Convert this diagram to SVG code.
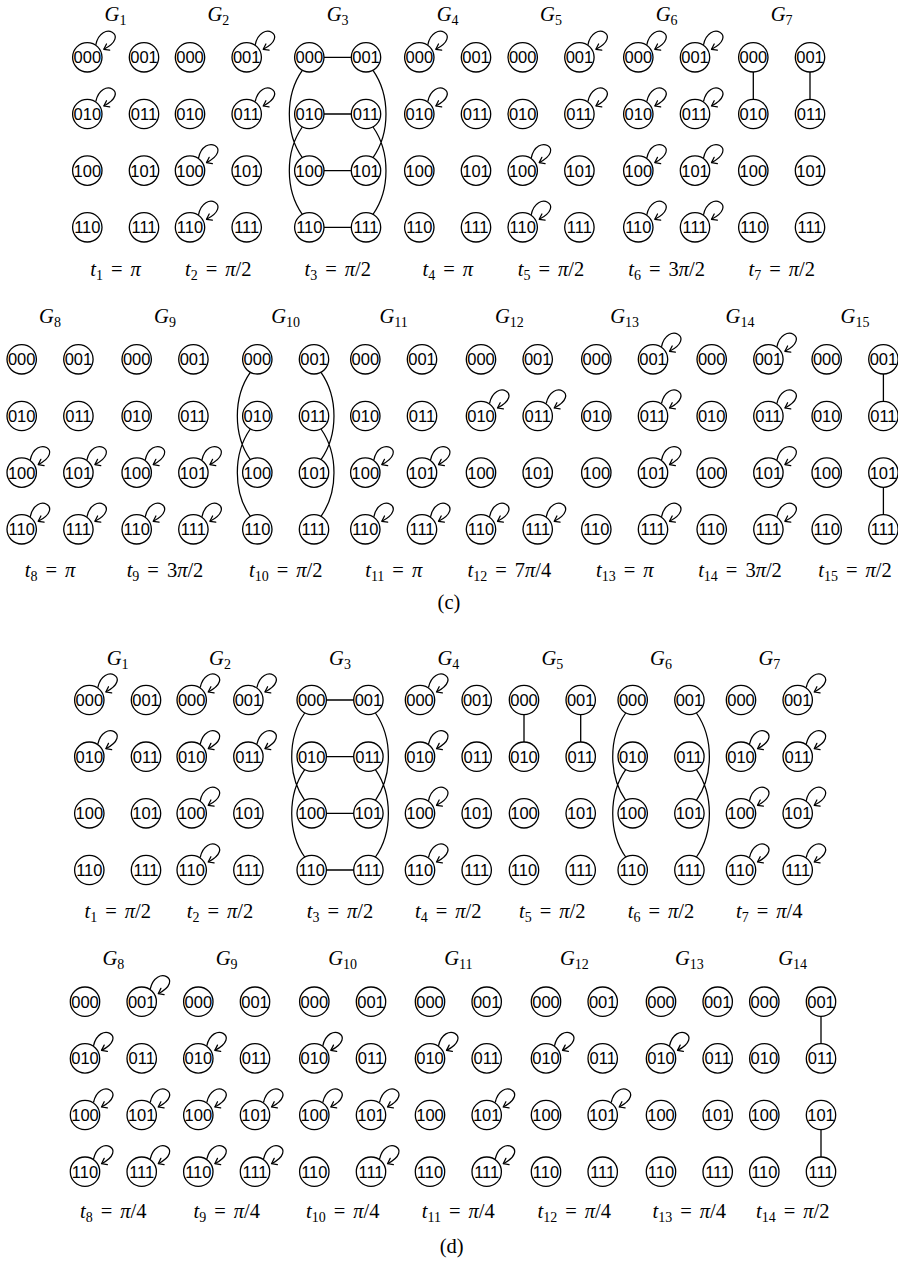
<svg xmlns="http://www.w3.org/2000/svg" xmlns:xlink="http://www.w3.org/1999/xlink" width="898" height="1264" viewBox="0 0 898 1264">
<style>
.n circle{fill:#fff;stroke:#000;stroke-width:1.3}
.n text{font-family:"Liberation Sans",Arial,sans-serif;font-size:16.5px;text-anchor:middle;fill:#000}
.t{font-family:"Liberation Serif","Times New Roman",serif;font-size:20.5px;text-anchor:middle;fill:#000}
.i{font-style:italic}
.s{font-size:14px}
</style>
<defs>
<marker id="ah" viewBox="-6 -5 8 10" refX="0" refY="0" markerWidth="8" markerHeight="10" orient="auto" markerUnits="userSpaceOnUse"><path d="M-4.8,-3.5 L0,0 L-4.8,3.5" fill="none" stroke="#000" stroke-width="1.25" stroke-linecap="round" stroke-linejoin="round"/></marker>
<path id="lp" d="M8.5,-12.5 C14,-38 44,-22 16.5,-8" fill="none" stroke="#000" stroke-width="1.25" marker-end="url(#ah)"/>
<path id="cv" d="M-7,13 C-24.3,37.7 -24.3,75.7 -7,100.3 M-7,69.7 C-24.3,94.4 -24.3,132.4 -7,157 M63.7,13 C81,37.7 81,75.7 63.7,100.3 M63.7,69.7 C81,94.4 81,132.4 63.7,157" fill="none" stroke="#000" stroke-width="1.25"/>
<path id="hz" d="M0,0 H56.7 M0,56.7 H56.7 M0,113.3 H56.7 M0,170 H56.7" fill="none" stroke="#000" stroke-width="1.3"/>
<path id="vt" d="M0,0 V56.7 M56.7,0 V56.7" fill="none" stroke="#000" stroke-width="1.3"/>
<path id="vr" d="M56.7,0 V56.7 M56.7,113.3 V170" fill="none" stroke="#000" stroke-width="1.3"/>
</defs>
<rect width="898" height="1264" fill="#fff"/>
<g id="connectors">
<g id="c1-e" transform="translate(87.3 57.3)"><use href="#lp"/><use href="#lp" y="56.7"/></g>
<g id="c2-e" transform="translate(190 57.3)"><use href="#lp" x="56.7"/><use href="#lp" x="56.7" y="56.7"/><use href="#lp" y="113.3"/><use href="#lp" y="170"/></g>
<g id="c3-e" transform="translate(309.3 57.3)"><use href="#hz"/><use href="#cv"/></g>
<g id="c4-e" transform="translate(419.3 57.3)"><use href="#lp"/><use href="#lp" y="56.7"/></g>
<g id="c5-e" transform="translate(522.7 57.3)"><use href="#lp" x="56.7"/><use href="#lp" x="56.7" y="56.7"/><use href="#lp" y="113.3"/><use href="#lp" y="170"/></g>
<g id="c6-e" transform="translate(638.3 57.3)"><use href="#lp"/><use href="#lp" x="56.7"/><use href="#lp" y="56.7"/><use href="#lp" x="56.7" y="56.7"/><use href="#lp" y="113.3"/><use href="#lp" x="56.7" y="113.3"/><use href="#lp" y="170"/><use href="#lp" x="56.7" y="170"/></g>
<g id="c7-e" transform="translate(753.3 57.3)"><use href="#vt"/></g>
<g id="c8-e" transform="translate(21.7 359.3)"><use href="#lp" y="113.3"/><use href="#lp" x="56.7" y="113.3"/><use href="#lp" y="170"/><use href="#lp" x="56.7" y="170"/></g>
<g id="c9-e" transform="translate(136.7 359.3)"><use href="#lp" y="113.3"/><use href="#lp" x="56.7" y="113.3"/><use href="#lp" y="170"/><use href="#lp" x="56.7" y="170"/></g>
<g id="c10-e" transform="translate(257.3 359.3)"><use href="#cv"/></g>
<g id="c11-e" transform="translate(365.3 359.3)"><use href="#lp" y="113.3"/><use href="#lp" x="56.7" y="113.3"/><use href="#lp" y="170"/><use href="#lp" x="56.7" y="170"/></g>
<g id="c12-e" transform="translate(481 359.3)"><use href="#lp" y="56.7"/><use href="#lp" x="56.7" y="56.7"/><use href="#lp" y="170"/><use href="#lp" x="56.7" y="170"/></g>
<g id="c13-e" transform="translate(596.3 359.3)"><use href="#lp" x="56.7"/><use href="#lp" x="56.7" y="56.7"/><use href="#lp" x="56.7" y="113.3"/><use href="#lp" x="56.7" y="170"/></g>
<g id="c14-e" transform="translate(711.7 359.3)"><use href="#lp" x="56.7"/><use href="#lp" x="56.7" y="56.7"/><use href="#lp" x="56.7" y="113.3"/><use href="#lp" x="56.7" y="170"/></g>
<g id="c15-e" transform="translate(826.7 359.3)"><use href="#vr"/></g>
<g id="d1-e" transform="translate(89.3 700)"><use href="#lp"/><use href="#lp" y="56.7"/></g>
<g id="d2-e" transform="translate(191.7 700)"><use href="#lp"/><use href="#lp" x="56.7"/><use href="#lp" y="56.7"/><use href="#lp" x="56.7" y="56.7"/><use href="#lp" y="113.3"/><use href="#lp" y="170"/></g>
<g id="d3-e" transform="translate(311.7 700)"><use href="#hz"/><use href="#cv"/></g>
<g id="d4-e" transform="translate(420 700)"><use href="#lp"/><use href="#lp" y="56.7"/><use href="#lp" y="113.3"/><use href="#lp" y="170"/></g>
<g id="d5-e" transform="translate(524 700)"><use href="#vt"/></g>
<g id="d6-e" transform="translate(632.7 700)"><use href="#cv"/></g>
<g id="d7-e" transform="translate(741 700)"><use href="#lp" x="56.7"/><use href="#lp" y="56.7"/><use href="#lp" x="56.7" y="56.7"/><use href="#lp" y="113.3"/><use href="#lp" x="56.7" y="113.3"/><use href="#lp" y="170"/><use href="#lp" x="56.7" y="170"/></g>
<g id="d8-e" transform="translate(85 1001.7)"><use href="#lp" x="56.7"/><use href="#lp" y="56.7"/><use href="#lp" y="113.3"/><use href="#lp" x="56.7" y="113.3"/><use href="#lp" y="170"/><use href="#lp" x="56.7" y="170"/></g>
<g id="d9-e" transform="translate(198.3 1001.7)"><use href="#lp" y="56.7"/><use href="#lp" y="113.3"/><use href="#lp" x="56.7" y="113.3"/><use href="#lp" y="170"/><use href="#lp" x="56.7" y="170"/></g>
<g id="d10-e" transform="translate(314.3 1001.7)"><use href="#lp" y="56.7"/><use href="#lp" y="113.3"/><use href="#lp" x="56.7" y="113.3"/><use href="#lp" x="56.7" y="170"/></g>
<g id="d11-e" transform="translate(430 1001.7)"><use href="#lp" y="56.7"/><use href="#lp" x="56.7" y="113.3"/><use href="#lp" x="56.7" y="170"/></g>
<g id="d12-e" transform="translate(546 1001.7)"><use href="#lp" y="56.7"/><use href="#lp" x="56.7" y="113.3"/></g>
<g id="d13-e" transform="translate(661 1001.7)"><use href="#lp" y="56.7"/></g>
<g id="d14-e" transform="translate(764.3 1001.7)"><use href="#vr"/></g>
</g>
<g id="nodes">
<g id="c1" transform="translate(87.3 57.3)">
<g id="c1-000" class="n"><circle r="14.7"/><text y="5.9">000</text></g>
<g id="c1-001" class="n" transform="translate(56.7 0)"><circle r="14.7"/><text y="5.9">001</text></g>
<g id="c1-010" class="n" transform="translate(0 56.7)"><circle r="14.7"/><text y="5.9">010</text></g>
<g id="c1-011" class="n" transform="translate(56.7 56.7)"><circle r="14.7"/><text y="5.9">011</text></g>
<g id="c1-100" class="n" transform="translate(0 113.3)"><circle r="14.7"/><text y="5.9">100</text></g>
<g id="c1-101" class="n" transform="translate(56.7 113.3)"><circle r="14.7"/><text y="5.9">101</text></g>
<g id="c1-110" class="n" transform="translate(0 170)"><circle r="14.7"/><text y="5.9">110</text></g>
<g id="c1-111" class="n" transform="translate(56.7 170)"><circle r="14.7"/><text y="5.9">111</text></g>
</g>
<g id="c2" transform="translate(190 57.3)">
<g id="c2-000" class="n"><circle r="14.7"/><text y="5.9">000</text></g>
<g id="c2-001" class="n" transform="translate(56.7 0)"><circle r="14.7"/><text y="5.9">001</text></g>
<g id="c2-010" class="n" transform="translate(0 56.7)"><circle r="14.7"/><text y="5.9">010</text></g>
<g id="c2-011" class="n" transform="translate(56.7 56.7)"><circle r="14.7"/><text y="5.9">011</text></g>
<g id="c2-100" class="n" transform="translate(0 113.3)"><circle r="14.7"/><text y="5.9">100</text></g>
<g id="c2-101" class="n" transform="translate(56.7 113.3)"><circle r="14.7"/><text y="5.9">101</text></g>
<g id="c2-110" class="n" transform="translate(0 170)"><circle r="14.7"/><text y="5.9">110</text></g>
<g id="c2-111" class="n" transform="translate(56.7 170)"><circle r="14.7"/><text y="5.9">111</text></g>
</g>
<g id="c3" transform="translate(309.3 57.3)">
<g id="c3-000" class="n"><circle r="14.7"/><text y="5.9">000</text></g>
<g id="c3-001" class="n" transform="translate(56.7 0)"><circle r="14.7"/><text y="5.9">001</text></g>
<g id="c3-010" class="n" transform="translate(0 56.7)"><circle r="14.7"/><text y="5.9">010</text></g>
<g id="c3-011" class="n" transform="translate(56.7 56.7)"><circle r="14.7"/><text y="5.9">011</text></g>
<g id="c3-100" class="n" transform="translate(0 113.3)"><circle r="14.7"/><text y="5.9">100</text></g>
<g id="c3-101" class="n" transform="translate(56.7 113.3)"><circle r="14.7"/><text y="5.9">101</text></g>
<g id="c3-110" class="n" transform="translate(0 170)"><circle r="14.7"/><text y="5.9">110</text></g>
<g id="c3-111" class="n" transform="translate(56.7 170)"><circle r="14.7"/><text y="5.9">111</text></g>
</g>
<g id="c4" transform="translate(419.3 57.3)">
<g id="c4-000" class="n"><circle r="14.7"/><text y="5.9">000</text></g>
<g id="c4-001" class="n" transform="translate(56.7 0)"><circle r="14.7"/><text y="5.9">001</text></g>
<g id="c4-010" class="n" transform="translate(0 56.7)"><circle r="14.7"/><text y="5.9">010</text></g>
<g id="c4-011" class="n" transform="translate(56.7 56.7)"><circle r="14.7"/><text y="5.9">011</text></g>
<g id="c4-100" class="n" transform="translate(0 113.3)"><circle r="14.7"/><text y="5.9">100</text></g>
<g id="c4-101" class="n" transform="translate(56.7 113.3)"><circle r="14.7"/><text y="5.9">101</text></g>
<g id="c4-110" class="n" transform="translate(0 170)"><circle r="14.7"/><text y="5.9">110</text></g>
<g id="c4-111" class="n" transform="translate(56.7 170)"><circle r="14.7"/><text y="5.9">111</text></g>
</g>
<g id="c5" transform="translate(522.7 57.3)">
<g id="c5-000" class="n"><circle r="14.7"/><text y="5.9">000</text></g>
<g id="c5-001" class="n" transform="translate(56.7 0)"><circle r="14.7"/><text y="5.9">001</text></g>
<g id="c5-010" class="n" transform="translate(0 56.7)"><circle r="14.7"/><text y="5.9">010</text></g>
<g id="c5-011" class="n" transform="translate(56.7 56.7)"><circle r="14.7"/><text y="5.9">011</text></g>
<g id="c5-100" class="n" transform="translate(0 113.3)"><circle r="14.7"/><text y="5.9">100</text></g>
<g id="c5-101" class="n" transform="translate(56.7 113.3)"><circle r="14.7"/><text y="5.9">101</text></g>
<g id="c5-110" class="n" transform="translate(0 170)"><circle r="14.7"/><text y="5.9">110</text></g>
<g id="c5-111" class="n" transform="translate(56.7 170)"><circle r="14.7"/><text y="5.9">111</text></g>
</g>
<g id="c6" transform="translate(638.3 57.3)">
<g id="c6-000" class="n"><circle r="14.7"/><text y="5.9">000</text></g>
<g id="c6-001" class="n" transform="translate(56.7 0)"><circle r="14.7"/><text y="5.9">001</text></g>
<g id="c6-010" class="n" transform="translate(0 56.7)"><circle r="14.7"/><text y="5.9">010</text></g>
<g id="c6-011" class="n" transform="translate(56.7 56.7)"><circle r="14.7"/><text y="5.9">011</text></g>
<g id="c6-100" class="n" transform="translate(0 113.3)"><circle r="14.7"/><text y="5.9">100</text></g>
<g id="c6-101" class="n" transform="translate(56.7 113.3)"><circle r="14.7"/><text y="5.9">101</text></g>
<g id="c6-110" class="n" transform="translate(0 170)"><circle r="14.7"/><text y="5.9">110</text></g>
<g id="c6-111" class="n" transform="translate(56.7 170)"><circle r="14.7"/><text y="5.9">111</text></g>
</g>
<g id="c7" transform="translate(753.3 57.3)">
<g id="c7-000" class="n"><circle r="14.7"/><text y="5.9">000</text></g>
<g id="c7-001" class="n" transform="translate(56.7 0)"><circle r="14.7"/><text y="5.9">001</text></g>
<g id="c7-010" class="n" transform="translate(0 56.7)"><circle r="14.7"/><text y="5.9">010</text></g>
<g id="c7-011" class="n" transform="translate(56.7 56.7)"><circle r="14.7"/><text y="5.9">011</text></g>
<g id="c7-100" class="n" transform="translate(0 113.3)"><circle r="14.7"/><text y="5.9">100</text></g>
<g id="c7-101" class="n" transform="translate(56.7 113.3)"><circle r="14.7"/><text y="5.9">101</text></g>
<g id="c7-110" class="n" transform="translate(0 170)"><circle r="14.7"/><text y="5.9">110</text></g>
<g id="c7-111" class="n" transform="translate(56.7 170)"><circle r="14.7"/><text y="5.9">111</text></g>
</g>
<g id="c8" transform="translate(21.7 359.3)">
<g id="c8-000" class="n"><circle r="14.7"/><text y="5.9">000</text></g>
<g id="c8-001" class="n" transform="translate(56.7 0)"><circle r="14.7"/><text y="5.9">001</text></g>
<g id="c8-010" class="n" transform="translate(0 56.7)"><circle r="14.7"/><text y="5.9">010</text></g>
<g id="c8-011" class="n" transform="translate(56.7 56.7)"><circle r="14.7"/><text y="5.9">011</text></g>
<g id="c8-100" class="n" transform="translate(0 113.3)"><circle r="14.7"/><text y="5.9">100</text></g>
<g id="c8-101" class="n" transform="translate(56.7 113.3)"><circle r="14.7"/><text y="5.9">101</text></g>
<g id="c8-110" class="n" transform="translate(0 170)"><circle r="14.7"/><text y="5.9">110</text></g>
<g id="c8-111" class="n" transform="translate(56.7 170)"><circle r="14.7"/><text y="5.9">111</text></g>
</g>
<g id="c9" transform="translate(136.7 359.3)">
<g id="c9-000" class="n"><circle r="14.7"/><text y="5.9">000</text></g>
<g id="c9-001" class="n" transform="translate(56.7 0)"><circle r="14.7"/><text y="5.9">001</text></g>
<g id="c9-010" class="n" transform="translate(0 56.7)"><circle r="14.7"/><text y="5.9">010</text></g>
<g id="c9-011" class="n" transform="translate(56.7 56.7)"><circle r="14.7"/><text y="5.9">011</text></g>
<g id="c9-100" class="n" transform="translate(0 113.3)"><circle r="14.7"/><text y="5.9">100</text></g>
<g id="c9-101" class="n" transform="translate(56.7 113.3)"><circle r="14.7"/><text y="5.9">101</text></g>
<g id="c9-110" class="n" transform="translate(0 170)"><circle r="14.7"/><text y="5.9">110</text></g>
<g id="c9-111" class="n" transform="translate(56.7 170)"><circle r="14.7"/><text y="5.9">111</text></g>
</g>
<g id="c10" transform="translate(257.3 359.3)">
<g id="c10-000" class="n"><circle r="14.7"/><text y="5.9">000</text></g>
<g id="c10-001" class="n" transform="translate(56.7 0)"><circle r="14.7"/><text y="5.9">001</text></g>
<g id="c10-010" class="n" transform="translate(0 56.7)"><circle r="14.7"/><text y="5.9">010</text></g>
<g id="c10-011" class="n" transform="translate(56.7 56.7)"><circle r="14.7"/><text y="5.9">011</text></g>
<g id="c10-100" class="n" transform="translate(0 113.3)"><circle r="14.7"/><text y="5.9">100</text></g>
<g id="c10-101" class="n" transform="translate(56.7 113.3)"><circle r="14.7"/><text y="5.9">101</text></g>
<g id="c10-110" class="n" transform="translate(0 170)"><circle r="14.7"/><text y="5.9">110</text></g>
<g id="c10-111" class="n" transform="translate(56.7 170)"><circle r="14.7"/><text y="5.9">111</text></g>
</g>
<g id="c11" transform="translate(365.3 359.3)">
<g id="c11-000" class="n"><circle r="14.7"/><text y="5.9">000</text></g>
<g id="c11-001" class="n" transform="translate(56.7 0)"><circle r="14.7"/><text y="5.9">001</text></g>
<g id="c11-010" class="n" transform="translate(0 56.7)"><circle r="14.7"/><text y="5.9">010</text></g>
<g id="c11-011" class="n" transform="translate(56.7 56.7)"><circle r="14.7"/><text y="5.9">011</text></g>
<g id="c11-100" class="n" transform="translate(0 113.3)"><circle r="14.7"/><text y="5.9">100</text></g>
<g id="c11-101" class="n" transform="translate(56.7 113.3)"><circle r="14.7"/><text y="5.9">101</text></g>
<g id="c11-110" class="n" transform="translate(0 170)"><circle r="14.7"/><text y="5.9">110</text></g>
<g id="c11-111" class="n" transform="translate(56.7 170)"><circle r="14.7"/><text y="5.9">111</text></g>
</g>
<g id="c12" transform="translate(481 359.3)">
<g id="c12-000" class="n"><circle r="14.7"/><text y="5.9">000</text></g>
<g id="c12-001" class="n" transform="translate(56.7 0)"><circle r="14.7"/><text y="5.9">001</text></g>
<g id="c12-010" class="n" transform="translate(0 56.7)"><circle r="14.7"/><text y="5.9">010</text></g>
<g id="c12-011" class="n" transform="translate(56.7 56.7)"><circle r="14.7"/><text y="5.9">011</text></g>
<g id="c12-100" class="n" transform="translate(0 113.3)"><circle r="14.7"/><text y="5.9">100</text></g>
<g id="c12-101" class="n" transform="translate(56.7 113.3)"><circle r="14.7"/><text y="5.9">101</text></g>
<g id="c12-110" class="n" transform="translate(0 170)"><circle r="14.7"/><text y="5.9">110</text></g>
<g id="c12-111" class="n" transform="translate(56.7 170)"><circle r="14.7"/><text y="5.9">111</text></g>
</g>
<g id="c13" transform="translate(596.3 359.3)">
<g id="c13-000" class="n"><circle r="14.7"/><text y="5.9">000</text></g>
<g id="c13-001" class="n" transform="translate(56.7 0)"><circle r="14.7"/><text y="5.9">001</text></g>
<g id="c13-010" class="n" transform="translate(0 56.7)"><circle r="14.7"/><text y="5.9">010</text></g>
<g id="c13-011" class="n" transform="translate(56.7 56.7)"><circle r="14.7"/><text y="5.9">011</text></g>
<g id="c13-100" class="n" transform="translate(0 113.3)"><circle r="14.7"/><text y="5.9">100</text></g>
<g id="c13-101" class="n" transform="translate(56.7 113.3)"><circle r="14.7"/><text y="5.9">101</text></g>
<g id="c13-110" class="n" transform="translate(0 170)"><circle r="14.7"/><text y="5.9">110</text></g>
<g id="c13-111" class="n" transform="translate(56.7 170)"><circle r="14.7"/><text y="5.9">111</text></g>
</g>
<g id="c14" transform="translate(711.7 359.3)">
<g id="c14-000" class="n"><circle r="14.7"/><text y="5.9">000</text></g>
<g id="c14-001" class="n" transform="translate(56.7 0)"><circle r="14.7"/><text y="5.9">001</text></g>
<g id="c14-010" class="n" transform="translate(0 56.7)"><circle r="14.7"/><text y="5.9">010</text></g>
<g id="c14-011" class="n" transform="translate(56.7 56.7)"><circle r="14.7"/><text y="5.9">011</text></g>
<g id="c14-100" class="n" transform="translate(0 113.3)"><circle r="14.7"/><text y="5.9">100</text></g>
<g id="c14-101" class="n" transform="translate(56.7 113.3)"><circle r="14.7"/><text y="5.9">101</text></g>
<g id="c14-110" class="n" transform="translate(0 170)"><circle r="14.7"/><text y="5.9">110</text></g>
<g id="c14-111" class="n" transform="translate(56.7 170)"><circle r="14.7"/><text y="5.9">111</text></g>
</g>
<g id="c15" transform="translate(826.7 359.3)">
<g id="c15-000" class="n"><circle r="14.7"/><text y="5.9">000</text></g>
<g id="c15-001" class="n" transform="translate(56.7 0)"><circle r="14.7"/><text y="5.9">001</text></g>
<g id="c15-010" class="n" transform="translate(0 56.7)"><circle r="14.7"/><text y="5.9">010</text></g>
<g id="c15-011" class="n" transform="translate(56.7 56.7)"><circle r="14.7"/><text y="5.9">011</text></g>
<g id="c15-100" class="n" transform="translate(0 113.3)"><circle r="14.7"/><text y="5.9">100</text></g>
<g id="c15-101" class="n" transform="translate(56.7 113.3)"><circle r="14.7"/><text y="5.9">101</text></g>
<g id="c15-110" class="n" transform="translate(0 170)"><circle r="14.7"/><text y="5.9">110</text></g>
<g id="c15-111" class="n" transform="translate(56.7 170)"><circle r="14.7"/><text y="5.9">111</text></g>
</g>
<g id="d1" transform="translate(89.3 700)">
<g id="d1-000" class="n"><circle r="14.7"/><text y="5.9">000</text></g>
<g id="d1-001" class="n" transform="translate(56.7 0)"><circle r="14.7"/><text y="5.9">001</text></g>
<g id="d1-010" class="n" transform="translate(0 56.7)"><circle r="14.7"/><text y="5.9">010</text></g>
<g id="d1-011" class="n" transform="translate(56.7 56.7)"><circle r="14.7"/><text y="5.9">011</text></g>
<g id="d1-100" class="n" transform="translate(0 113.3)"><circle r="14.7"/><text y="5.9">100</text></g>
<g id="d1-101" class="n" transform="translate(56.7 113.3)"><circle r="14.7"/><text y="5.9">101</text></g>
<g id="d1-110" class="n" transform="translate(0 170)"><circle r="14.7"/><text y="5.9">110</text></g>
<g id="d1-111" class="n" transform="translate(56.7 170)"><circle r="14.7"/><text y="5.9">111</text></g>
</g>
<g id="d2" transform="translate(191.7 700)">
<g id="d2-000" class="n"><circle r="14.7"/><text y="5.9">000</text></g>
<g id="d2-001" class="n" transform="translate(56.7 0)"><circle r="14.7"/><text y="5.9">001</text></g>
<g id="d2-010" class="n" transform="translate(0 56.7)"><circle r="14.7"/><text y="5.9">010</text></g>
<g id="d2-011" class="n" transform="translate(56.7 56.7)"><circle r="14.7"/><text y="5.9">011</text></g>
<g id="d2-100" class="n" transform="translate(0 113.3)"><circle r="14.7"/><text y="5.9">100</text></g>
<g id="d2-101" class="n" transform="translate(56.7 113.3)"><circle r="14.7"/><text y="5.9">101</text></g>
<g id="d2-110" class="n" transform="translate(0 170)"><circle r="14.7"/><text y="5.9">110</text></g>
<g id="d2-111" class="n" transform="translate(56.7 170)"><circle r="14.7"/><text y="5.9">111</text></g>
</g>
<g id="d3" transform="translate(311.7 700)">
<g id="d3-000" class="n"><circle r="14.7"/><text y="5.9">000</text></g>
<g id="d3-001" class="n" transform="translate(56.7 0)"><circle r="14.7"/><text y="5.9">001</text></g>
<g id="d3-010" class="n" transform="translate(0 56.7)"><circle r="14.7"/><text y="5.9">010</text></g>
<g id="d3-011" class="n" transform="translate(56.7 56.7)"><circle r="14.7"/><text y="5.9">011</text></g>
<g id="d3-100" class="n" transform="translate(0 113.3)"><circle r="14.7"/><text y="5.9">100</text></g>
<g id="d3-101" class="n" transform="translate(56.7 113.3)"><circle r="14.7"/><text y="5.9">101</text></g>
<g id="d3-110" class="n" transform="translate(0 170)"><circle r="14.7"/><text y="5.9">110</text></g>
<g id="d3-111" class="n" transform="translate(56.7 170)"><circle r="14.7"/><text y="5.9">111</text></g>
</g>
<g id="d4" transform="translate(420 700)">
<g id="d4-000" class="n"><circle r="14.7"/><text y="5.9">000</text></g>
<g id="d4-001" class="n" transform="translate(56.7 0)"><circle r="14.7"/><text y="5.9">001</text></g>
<g id="d4-010" class="n" transform="translate(0 56.7)"><circle r="14.7"/><text y="5.9">010</text></g>
<g id="d4-011" class="n" transform="translate(56.7 56.7)"><circle r="14.7"/><text y="5.9">011</text></g>
<g id="d4-100" class="n" transform="translate(0 113.3)"><circle r="14.7"/><text y="5.9">100</text></g>
<g id="d4-101" class="n" transform="translate(56.7 113.3)"><circle r="14.7"/><text y="5.9">101</text></g>
<g id="d4-110" class="n" transform="translate(0 170)"><circle r="14.7"/><text y="5.9">110</text></g>
<g id="d4-111" class="n" transform="translate(56.7 170)"><circle r="14.7"/><text y="5.9">111</text></g>
</g>
<g id="d5" transform="translate(524 700)">
<g id="d5-000" class="n"><circle r="14.7"/><text y="5.9">000</text></g>
<g id="d5-001" class="n" transform="translate(56.7 0)"><circle r="14.7"/><text y="5.9">001</text></g>
<g id="d5-010" class="n" transform="translate(0 56.7)"><circle r="14.7"/><text y="5.9">010</text></g>
<g id="d5-011" class="n" transform="translate(56.7 56.7)"><circle r="14.7"/><text y="5.9">011</text></g>
<g id="d5-100" class="n" transform="translate(0 113.3)"><circle r="14.7"/><text y="5.9">100</text></g>
<g id="d5-101" class="n" transform="translate(56.7 113.3)"><circle r="14.7"/><text y="5.9">101</text></g>
<g id="d5-110" class="n" transform="translate(0 170)"><circle r="14.7"/><text y="5.9">110</text></g>
<g id="d5-111" class="n" transform="translate(56.7 170)"><circle r="14.7"/><text y="5.9">111</text></g>
</g>
<g id="d6" transform="translate(632.7 700)">
<g id="d6-000" class="n"><circle r="14.7"/><text y="5.9">000</text></g>
<g id="d6-001" class="n" transform="translate(56.7 0)"><circle r="14.7"/><text y="5.9">001</text></g>
<g id="d6-010" class="n" transform="translate(0 56.7)"><circle r="14.7"/><text y="5.9">010</text></g>
<g id="d6-011" class="n" transform="translate(56.7 56.7)"><circle r="14.7"/><text y="5.9">011</text></g>
<g id="d6-100" class="n" transform="translate(0 113.3)"><circle r="14.7"/><text y="5.9">100</text></g>
<g id="d6-101" class="n" transform="translate(56.7 113.3)"><circle r="14.7"/><text y="5.9">101</text></g>
<g id="d6-110" class="n" transform="translate(0 170)"><circle r="14.7"/><text y="5.9">110</text></g>
<g id="d6-111" class="n" transform="translate(56.7 170)"><circle r="14.7"/><text y="5.9">111</text></g>
</g>
<g id="d7" transform="translate(741 700)">
<g id="d7-000" class="n"><circle r="14.7"/><text y="5.9">000</text></g>
<g id="d7-001" class="n" transform="translate(56.7 0)"><circle r="14.7"/><text y="5.9">001</text></g>
<g id="d7-010" class="n" transform="translate(0 56.7)"><circle r="14.7"/><text y="5.9">010</text></g>
<g id="d7-011" class="n" transform="translate(56.7 56.7)"><circle r="14.7"/><text y="5.9">011</text></g>
<g id="d7-100" class="n" transform="translate(0 113.3)"><circle r="14.7"/><text y="5.9">100</text></g>
<g id="d7-101" class="n" transform="translate(56.7 113.3)"><circle r="14.7"/><text y="5.9">101</text></g>
<g id="d7-110" class="n" transform="translate(0 170)"><circle r="14.7"/><text y="5.9">110</text></g>
<g id="d7-111" class="n" transform="translate(56.7 170)"><circle r="14.7"/><text y="5.9">111</text></g>
</g>
<g id="d8" transform="translate(85 1001.7)">
<g id="d8-000" class="n"><circle r="14.7"/><text y="5.9">000</text></g>
<g id="d8-001" class="n" transform="translate(56.7 0)"><circle r="14.7"/><text y="5.9">001</text></g>
<g id="d8-010" class="n" transform="translate(0 56.7)"><circle r="14.7"/><text y="5.9">010</text></g>
<g id="d8-011" class="n" transform="translate(56.7 56.7)"><circle r="14.7"/><text y="5.9">011</text></g>
<g id="d8-100" class="n" transform="translate(0 113.3)"><circle r="14.7"/><text y="5.9">100</text></g>
<g id="d8-101" class="n" transform="translate(56.7 113.3)"><circle r="14.7"/><text y="5.9">101</text></g>
<g id="d8-110" class="n" transform="translate(0 170)"><circle r="14.7"/><text y="5.9">110</text></g>
<g id="d8-111" class="n" transform="translate(56.7 170)"><circle r="14.7"/><text y="5.9">111</text></g>
</g>
<g id="d9" transform="translate(198.3 1001.7)">
<g id="d9-000" class="n"><circle r="14.7"/><text y="5.9">000</text></g>
<g id="d9-001" class="n" transform="translate(56.7 0)"><circle r="14.7"/><text y="5.9">001</text></g>
<g id="d9-010" class="n" transform="translate(0 56.7)"><circle r="14.7"/><text y="5.9">010</text></g>
<g id="d9-011" class="n" transform="translate(56.7 56.7)"><circle r="14.7"/><text y="5.9">011</text></g>
<g id="d9-100" class="n" transform="translate(0 113.3)"><circle r="14.7"/><text y="5.9">100</text></g>
<g id="d9-101" class="n" transform="translate(56.7 113.3)"><circle r="14.7"/><text y="5.9">101</text></g>
<g id="d9-110" class="n" transform="translate(0 170)"><circle r="14.7"/><text y="5.9">110</text></g>
<g id="d9-111" class="n" transform="translate(56.7 170)"><circle r="14.7"/><text y="5.9">111</text></g>
</g>
<g id="d10" transform="translate(314.3 1001.7)">
<g id="d10-000" class="n"><circle r="14.7"/><text y="5.9">000</text></g>
<g id="d10-001" class="n" transform="translate(56.7 0)"><circle r="14.7"/><text y="5.9">001</text></g>
<g id="d10-010" class="n" transform="translate(0 56.7)"><circle r="14.7"/><text y="5.9">010</text></g>
<g id="d10-011" class="n" transform="translate(56.7 56.7)"><circle r="14.7"/><text y="5.9">011</text></g>
<g id="d10-100" class="n" transform="translate(0 113.3)"><circle r="14.7"/><text y="5.9">100</text></g>
<g id="d10-101" class="n" transform="translate(56.7 113.3)"><circle r="14.7"/><text y="5.9">101</text></g>
<g id="d10-110" class="n" transform="translate(0 170)"><circle r="14.7"/><text y="5.9">110</text></g>
<g id="d10-111" class="n" transform="translate(56.7 170)"><circle r="14.7"/><text y="5.9">111</text></g>
</g>
<g id="d11" transform="translate(430 1001.7)">
<g id="d11-000" class="n"><circle r="14.7"/><text y="5.9">000</text></g>
<g id="d11-001" class="n" transform="translate(56.7 0)"><circle r="14.7"/><text y="5.9">001</text></g>
<g id="d11-010" class="n" transform="translate(0 56.7)"><circle r="14.7"/><text y="5.9">010</text></g>
<g id="d11-011" class="n" transform="translate(56.7 56.7)"><circle r="14.7"/><text y="5.9">011</text></g>
<g id="d11-100" class="n" transform="translate(0 113.3)"><circle r="14.7"/><text y="5.9">100</text></g>
<g id="d11-101" class="n" transform="translate(56.7 113.3)"><circle r="14.7"/><text y="5.9">101</text></g>
<g id="d11-110" class="n" transform="translate(0 170)"><circle r="14.7"/><text y="5.9">110</text></g>
<g id="d11-111" class="n" transform="translate(56.7 170)"><circle r="14.7"/><text y="5.9">111</text></g>
</g>
<g id="d12" transform="translate(546 1001.7)">
<g id="d12-000" class="n"><circle r="14.7"/><text y="5.9">000</text></g>
<g id="d12-001" class="n" transform="translate(56.7 0)"><circle r="14.7"/><text y="5.9">001</text></g>
<g id="d12-010" class="n" transform="translate(0 56.7)"><circle r="14.7"/><text y="5.9">010</text></g>
<g id="d12-011" class="n" transform="translate(56.7 56.7)"><circle r="14.7"/><text y="5.9">011</text></g>
<g id="d12-100" class="n" transform="translate(0 113.3)"><circle r="14.7"/><text y="5.9">100</text></g>
<g id="d12-101" class="n" transform="translate(56.7 113.3)"><circle r="14.7"/><text y="5.9">101</text></g>
<g id="d12-110" class="n" transform="translate(0 170)"><circle r="14.7"/><text y="5.9">110</text></g>
<g id="d12-111" class="n" transform="translate(56.7 170)"><circle r="14.7"/><text y="5.9">111</text></g>
</g>
<g id="d13" transform="translate(661 1001.7)">
<g id="d13-000" class="n"><circle r="14.7"/><text y="5.9">000</text></g>
<g id="d13-001" class="n" transform="translate(56.7 0)"><circle r="14.7"/><text y="5.9">001</text></g>
<g id="d13-010" class="n" transform="translate(0 56.7)"><circle r="14.7"/><text y="5.9">010</text></g>
<g id="d13-011" class="n" transform="translate(56.7 56.7)"><circle r="14.7"/><text y="5.9">011</text></g>
<g id="d13-100" class="n" transform="translate(0 113.3)"><circle r="14.7"/><text y="5.9">100</text></g>
<g id="d13-101" class="n" transform="translate(56.7 113.3)"><circle r="14.7"/><text y="5.9">101</text></g>
<g id="d13-110" class="n" transform="translate(0 170)"><circle r="14.7"/><text y="5.9">110</text></g>
<g id="d13-111" class="n" transform="translate(56.7 170)"><circle r="14.7"/><text y="5.9">111</text></g>
</g>
<g id="d14" transform="translate(764.3 1001.7)">
<g id="d14-000" class="n"><circle r="14.7"/><text y="5.9">000</text></g>
<g id="d14-001" class="n" transform="translate(56.7 0)"><circle r="14.7"/><text y="5.9">001</text></g>
<g id="d14-010" class="n" transform="translate(0 56.7)"><circle r="14.7"/><text y="5.9">010</text></g>
<g id="d14-011" class="n" transform="translate(56.7 56.7)"><circle r="14.7"/><text y="5.9">011</text></g>
<g id="d14-100" class="n" transform="translate(0 113.3)"><circle r="14.7"/><text y="5.9">100</text></g>
<g id="d14-101" class="n" transform="translate(56.7 113.3)"><circle r="14.7"/><text y="5.9">101</text></g>
<g id="d14-110" class="n" transform="translate(0 170)"><circle r="14.7"/><text y="5.9">110</text></g>
<g id="d14-111" class="n" transform="translate(56.7 170)"><circle r="14.7"/><text y="5.9">111</text></g>
</g>
</g>
<g id="labels">
<text class="t" x="115.5" y="20.7"><tspan class="i">G</tspan><tspan class="s" dy="4">1</tspan></text>
<text class="t" x="218.3" y="20.7"><tspan class="i">G</tspan><tspan class="s" dy="4">2</tspan></text>
<text class="t" x="337.7" y="20.7"><tspan class="i">G</tspan><tspan class="s" dy="4">3</tspan></text>
<text class="t" x="447.7" y="20.7"><tspan class="i">G</tspan><tspan class="s" dy="4">4</tspan></text>
<text class="t" x="551" y="20.7"><tspan class="i">G</tspan><tspan class="s" dy="4">5</tspan></text>
<text class="t" x="666.7" y="20.7"><tspan class="i">G</tspan><tspan class="s" dy="4">6</tspan></text>
<text class="t" x="781.7" y="20.7"><tspan class="i">G</tspan><tspan class="s" dy="4">7</tspan></text>
<text class="t" x="115.5" y="276.3"><tspan class="i">t</tspan><tspan class="s" dy="4">1</tspan><tspan dx="8" dy="-4">=</tspan><tspan class="i" dx="8">π</tspan></text>
<text class="t" x="218.3" y="276.3"><tspan class="i">t</tspan><tspan class="s" dy="4">2</tspan><tspan dx="8" dy="-4">=</tspan><tspan class="i" dx="8">π</tspan>/2</text>
<text class="t" x="337.7" y="276.3"><tspan class="i">t</tspan><tspan class="s" dy="4">3</tspan><tspan dx="8" dy="-4">=</tspan><tspan class="i" dx="8">π</tspan>/2</text>
<text class="t" x="447.7" y="276.3"><tspan class="i">t</tspan><tspan class="s" dy="4">4</tspan><tspan dx="8" dy="-4">=</tspan><tspan class="i" dx="8">π</tspan></text>
<text class="t" x="551" y="276.3"><tspan class="i">t</tspan><tspan class="s" dy="4">5</tspan><tspan dx="8" dy="-4">=</tspan><tspan class="i" dx="8">π</tspan>/2</text>
<text class="t" x="666.7" y="276.3"><tspan class="i">t</tspan><tspan class="s" dy="4">6</tspan><tspan dx="8" dy="-4">=</tspan><tspan dx="8">3</tspan><tspan class="i">π</tspan>/2</text>
<text class="t" x="781.7" y="276.3"><tspan class="i">t</tspan><tspan class="s" dy="4">7</tspan><tspan dx="8" dy="-4">=</tspan><tspan class="i" dx="8">π</tspan>/2</text>
<text class="t" x="50" y="322.7"><tspan class="i">G</tspan><tspan class="s" dy="4">8</tspan></text>
<text class="t" x="165" y="322.7"><tspan class="i">G</tspan><tspan class="s" dy="4">9</tspan></text>
<text class="t" x="285.7" y="322.7"><tspan class="i">G</tspan><tspan class="s" dy="4">10</tspan></text>
<text class="t" x="393.7" y="322.7"><tspan class="i">G</tspan><tspan class="s" dy="4">11</tspan></text>
<text class="t" x="509.3" y="322.7"><tspan class="i">G</tspan><tspan class="s" dy="4">12</tspan></text>
<text class="t" x="624.7" y="322.7"><tspan class="i">G</tspan><tspan class="s" dy="4">13</tspan></text>
<text class="t" x="740" y="322.7"><tspan class="i">G</tspan><tspan class="s" dy="4">14</tspan></text>
<text class="t" x="855" y="322.7"><tspan class="i">G</tspan><tspan class="s" dy="4">15</tspan></text>
<text class="t" x="50" y="576.7"><tspan class="i">t</tspan><tspan class="s" dy="4">8</tspan><tspan dx="8" dy="-4">=</tspan><tspan class="i" dx="8">π</tspan></text>
<text class="t" x="165" y="576.7"><tspan class="i">t</tspan><tspan class="s" dy="4">9</tspan><tspan dx="8" dy="-4">=</tspan><tspan dx="8">3</tspan><tspan class="i">π</tspan>/2</text>
<text class="t" x="285.7" y="576.7"><tspan class="i">t</tspan><tspan class="s" dy="4">10</tspan><tspan dx="8" dy="-4">=</tspan><tspan class="i" dx="8">π</tspan>/2</text>
<text class="t" x="393.7" y="576.7"><tspan class="i">t</tspan><tspan class="s" dy="4">11</tspan><tspan dx="8" dy="-4">=</tspan><tspan class="i" dx="8">π</tspan></text>
<text class="t" x="509.3" y="576.7"><tspan class="i">t</tspan><tspan class="s" dy="4">12</tspan><tspan dx="8" dy="-4">=</tspan><tspan dx="8">7</tspan><tspan class="i">π</tspan>/4</text>
<text class="t" x="624.7" y="576.7"><tspan class="i">t</tspan><tspan class="s" dy="4">13</tspan><tspan dx="8" dy="-4">=</tspan><tspan class="i" dx="8">π</tspan></text>
<text class="t" x="740" y="576.7"><tspan class="i">t</tspan><tspan class="s" dy="4">14</tspan><tspan dx="8" dy="-4">=</tspan><tspan dx="8">3</tspan><tspan class="i">π</tspan>/2</text>
<text class="t" x="855" y="576.7"><tspan class="i">t</tspan><tspan class="s" dy="4">15</tspan><tspan dx="8" dy="-4">=</tspan><tspan class="i" dx="8">π</tspan>/2</text>
<text class="t" x="449" y="609">(c)</text>
<text class="t" x="117.7" y="664.5"><tspan class="i">G</tspan><tspan class="s" dy="4">1</tspan></text>
<text class="t" x="220" y="664.5"><tspan class="i">G</tspan><tspan class="s" dy="4">2</tspan></text>
<text class="t" x="340" y="664.5"><tspan class="i">G</tspan><tspan class="s" dy="4">3</tspan></text>
<text class="t" x="448.3" y="664.5"><tspan class="i">G</tspan><tspan class="s" dy="4">4</tspan></text>
<text class="t" x="552.3" y="664.5"><tspan class="i">G</tspan><tspan class="s" dy="4">5</tspan></text>
<text class="t" x="661" y="664.5"><tspan class="i">G</tspan><tspan class="s" dy="4">6</tspan></text>
<text class="t" x="769.3" y="664.5"><tspan class="i">G</tspan><tspan class="s" dy="4">7</tspan></text>
<text class="t" x="117.7" y="918"><tspan class="i">t</tspan><tspan class="s" dy="4">1</tspan><tspan dx="8" dy="-4">=</tspan><tspan class="i" dx="8">π</tspan>/2</text>
<text class="t" x="220" y="918"><tspan class="i">t</tspan><tspan class="s" dy="4">2</tspan><tspan dx="8" dy="-4">=</tspan><tspan class="i" dx="8">π</tspan>/2</text>
<text class="t" x="340" y="918"><tspan class="i">t</tspan><tspan class="s" dy="4">3</tspan><tspan dx="8" dy="-4">=</tspan><tspan class="i" dx="8">π</tspan>/2</text>
<text class="t" x="448.3" y="918"><tspan class="i">t</tspan><tspan class="s" dy="4">4</tspan><tspan dx="8" dy="-4">=</tspan><tspan class="i" dx="8">π</tspan>/2</text>
<text class="t" x="552.3" y="918"><tspan class="i">t</tspan><tspan class="s" dy="4">5</tspan><tspan dx="8" dy="-4">=</tspan><tspan class="i" dx="8">π</tspan>/2</text>
<text class="t" x="661" y="918"><tspan class="i">t</tspan><tspan class="s" dy="4">6</tspan><tspan dx="8" dy="-4">=</tspan><tspan class="i" dx="8">π</tspan>/2</text>
<text class="t" x="769.3" y="918"><tspan class="i">t</tspan><tspan class="s" dy="4">7</tspan><tspan dx="8" dy="-4">=</tspan><tspan class="i" dx="8">π</tspan>/4</text>
<text class="t" x="113.3" y="965"><tspan class="i">G</tspan><tspan class="s" dy="4">8</tspan></text>
<text class="t" x="226.7" y="965"><tspan class="i">G</tspan><tspan class="s" dy="4">9</tspan></text>
<text class="t" x="342.7" y="965"><tspan class="i">G</tspan><tspan class="s" dy="4">10</tspan></text>
<text class="t" x="458.3" y="965"><tspan class="i">G</tspan><tspan class="s" dy="4">11</tspan></text>
<text class="t" x="574.3" y="965"><tspan class="i">G</tspan><tspan class="s" dy="4">12</tspan></text>
<text class="t" x="689.3" y="965"><tspan class="i">G</tspan><tspan class="s" dy="4">13</tspan></text>
<text class="t" x="792.7" y="965"><tspan class="i">G</tspan><tspan class="s" dy="4">14</tspan></text>
<text class="t" x="113.3" y="1218"><tspan class="i">t</tspan><tspan class="s" dy="4">8</tspan><tspan dx="8" dy="-4">=</tspan><tspan class="i" dx="8">π</tspan>/4</text>
<text class="t" x="226.7" y="1218"><tspan class="i">t</tspan><tspan class="s" dy="4">9</tspan><tspan dx="8" dy="-4">=</tspan><tspan class="i" dx="8">π</tspan>/4</text>
<text class="t" x="342.7" y="1218"><tspan class="i">t</tspan><tspan class="s" dy="4">10</tspan><tspan dx="8" dy="-4">=</tspan><tspan class="i" dx="8">π</tspan>/4</text>
<text class="t" x="458.3" y="1218"><tspan class="i">t</tspan><tspan class="s" dy="4">11</tspan><tspan dx="8" dy="-4">=</tspan><tspan class="i" dx="8">π</tspan>/4</text>
<text class="t" x="574.3" y="1218"><tspan class="i">t</tspan><tspan class="s" dy="4">12</tspan><tspan dx="8" dy="-4">=</tspan><tspan class="i" dx="8">π</tspan>/4</text>
<text class="t" x="689.3" y="1218"><tspan class="i">t</tspan><tspan class="s" dy="4">13</tspan><tspan dx="8" dy="-4">=</tspan><tspan class="i" dx="8">π</tspan>/4</text>
<text class="t" x="792.7" y="1218"><tspan class="i">t</tspan><tspan class="s" dy="4">14</tspan><tspan dx="8" dy="-4">=</tspan><tspan class="i" dx="8">π</tspan>/2</text>
<text class="t" x="451.7" y="1253">(d)</text>
</g>
</svg>
